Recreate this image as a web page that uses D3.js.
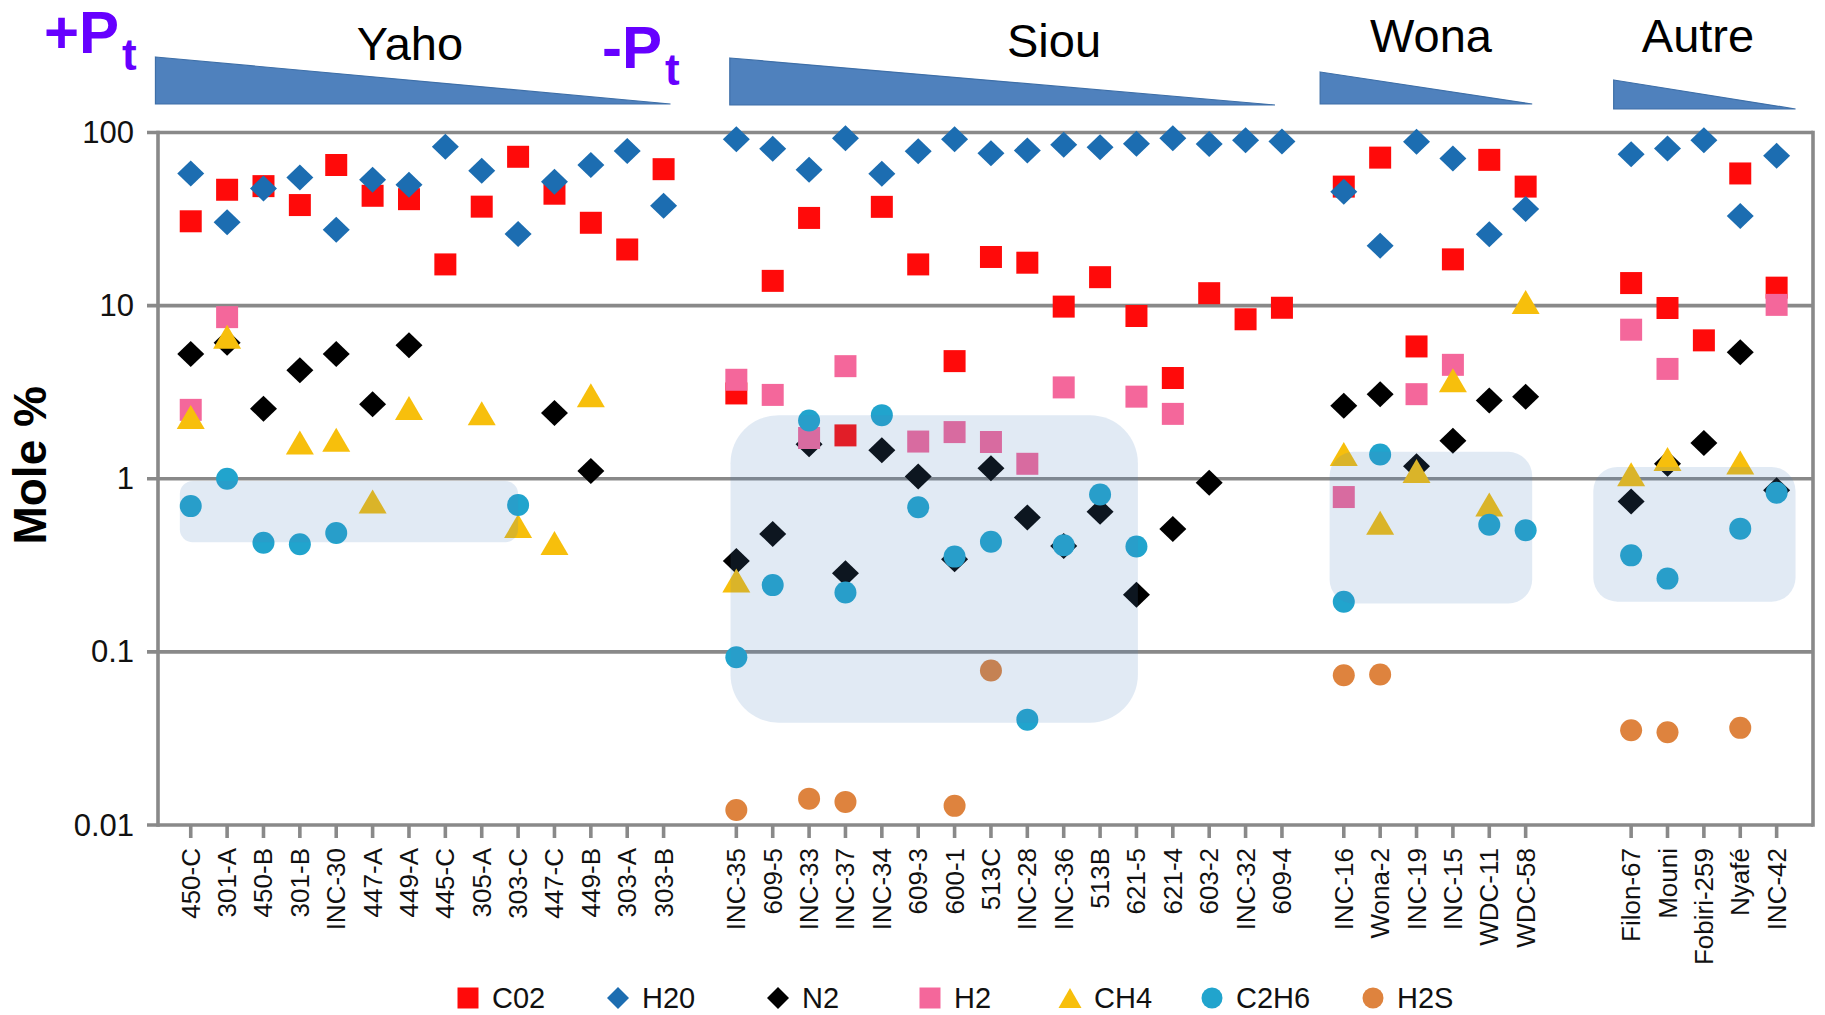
<!DOCTYPE html>
<html>
<head>
<meta charset="utf-8">
<script src="https://cdn.jsdelivr.net/npm/d3@7"></script>
<style>
  html, body { margin: 0; padding: 0; background: #fff; }
  svg { display: block; font-family: "Liberation Sans", Arial, sans-serif; }
</style>
</head>
<body>
<svg id="chart" width="1825" height="1015"></svg>
<script>
// ---- data -------------------------------------------------------------
const groupNames = ["Yaho", "Siou", "Wona", "Autre"];
const yahoSamples = ["450-C", "301-A", "450-B", "301-B", "INC-30", "447-A", "449-A", "445-C", "305-A", "303-C", "447-C", "449-B", "303-A", "303-B"];
const siouSamples = ["INC-35", "609-5", "INC-33", "INC-37", "INC-34", "609-3", "600-1", "513C", "INC-28", "INC-36", "513B", "621-5", "621-4", "603-2", "INC-32", "609-4"];
const wonaSamples = ["INC-16", "Wona-2", "INC-19", "INC-15", "WDC-11", "WDC-58"];
const autreSamples = ["Filon-67", "Mouni", "Fobiri-259", "Nyafé", "INC-42"];

const seriesNames = ["C02", "H20", "N2", "H2", "CH4", "C2H6", "H2S"];

// mole % per sample, in sample order (Yaho | Siou | Wona | Autre); null = not measured
const co2 = [30.7, 46.7, 49, 38.1, 64.9, 43.1, 41.2, 17.3, 37.3, 72.4, 44.3, 30.1, 21.1, 61.4,
  3.11, 13.9, 32.1, 1.78, 37.2, 17.3, 4.78, 19.1, 17.7, 9.87, 14.6, 8.71, 3.82, 11.8, 8.34, 9.72,
  48.7, 71.6, 5.81, 18.5, 69.5, 48.7,
  13.5, 9.69, 6.3, 58, 12.7];
const h2o = [58, 30.3, 47.5, 55, 27.4, 53.3, 49.9, 82.6, 60.1, 25.9, 51.9, 65, 78.3, 37.8,
  91.5, 80.5, 61, 92.7, 57.8, 77.8, 91.5, 76, 78.8, 84.9, 82.3, 86, 92.7, 85.7, 90.3, 88.8,
  45.5, 22.2, 88.3, 70.7, 25.8, 36.1,
  75, 80.8, 90.3, 32.9, 73.3];
const n2 = [5.26, 6.1, 2.54, 4.23, 5.26, 2.69, 5.91, null, null, null, 2.4, 1.11, null, null,
  0.335, 0.48, 1.58, 0.285, 1.46, 1.03, 0.343, 1.15, 0.598, 0.409, 0.645, 0.214, 0.513, 0.948, null, null,
  2.64, 3.08, 1.18, 1.66, 2.83, 2.98,
  0.74, 1.22, 1.61, 5.37, 0.857];
const h2 = [2.5, 8.58, null, null, null, null, null, null, null, null, null, null, null, null,
  3.73, 3.05, 1.72, 4.47, null, 1.64, 1.86, 1.63, 1.22, 3.37, null, 2.98, 2.37, null, null, null,
  0.784, null, 3.08, 4.55, null, null,
  7.26, 4.31, null, null, 10.1];
const ch4 = [2.27, 6.6, null, 1.62, 1.68, 0.74, 2.56, null, 2.39, 0.533, 0.425, 3.04, null, null,
  0.258, null, null, null, null, null, null, null, null, null, null, null, null, null, null, null,
  1.39, 0.557, 1.11, 3.71, 0.711, 10.5,
  1.06, 1.30, null, 1.24, null];
const c2h6 = [0.695, 1.0, 0.427, 0.419, 0.486, null, null, null, null, 0.705, null, null, null, null,
  0.093, 0.243, 2.17, 0.22, 2.33, 0.684, 0.355, 0.433, 0.0406, 0.413, 0.81, 0.406, null, null, null, null,
  0.195, 1.38, null, null, 0.543, 0.504,
  0.361, 0.265, null, 0.515, 0.83];
const h2s = [null, null, null, null, null, null, null, null, null, null, null, null, null, null,
  0.0122, null, 0.0142, 0.0136, null, null, 0.0129, 0.078, null, null, null, null, null, null, null, null,
  0.0733, 0.074, null, null, null, null,
  0.0353, 0.0343, null, 0.0364, null];

const yTickValues = [0.01, 0.1, 1, 10, 100];
const yTickLabels = ["0.01", "0.1", "1", "10", "100"];

// ---- layout -----------------------------------------------------------
const W = 1825, H = 1015;
const plot = { left: 158, right: 1813, top: 132.5, bottom: 825 };
const groupGapSlots = [2, 1.7, 2.9];     // spacing between sample groups, in slot units
const purple = "#6600FF";
const gridGrey = "#898989";

const svg = d3.select("#chart");

// slot index of every sample along the x axis
const groups = [yahoSamples, siouSamples, wonaSamples, autreSamples];
const samples = [], slots = [], groupSlots = [];
let cursor = 0;
groups.forEach((g, gi) => {
  const first = cursor;
  g.forEach((s, i) => { samples.push(s); slots.push(cursor + i); });
  cursor += g.length - 1;
  groupSlots.push([first, cursor]);
  if (gi < groupGapSlots.length) cursor += groupGapSlots[gi];
});

const x = d3.scaleLinear().domain([-0.9, cursor + 1.0]).range([plot.left, plot.right]);
const y = d3.scaleLog().domain([0.01, 100]).range([plot.bottom, plot.top]);

// ---- grid and axes ----------------------------------------------------
const grid = svg.append("g");
grid.selectAll("line.grid").data(yTickValues).join("line")
  .attr("x1", plot.left - 11).attr("x2", plot.right)
  .attr("y1", d => y(d)).attr("y2", d => y(d))
  .attr("stroke", gridGrey).attr("stroke-width", 3.6);
grid.append("line")
  .attr("x1", plot.left).attr("x2", plot.left)
  .attr("y1", plot.top - 1.8).attr("y2", plot.bottom + 1.8)
  .attr("stroke", gridGrey).attr("stroke-width", 3.6);
grid.append("line")
  .attr("x1", plot.right).attr("x2", plot.right)
  .attr("y1", plot.top - 1.8).attr("y2", plot.bottom + 1.8)
  .attr("stroke", gridGrey).attr("stroke-width", 3.6);
grid.selectAll("line.xtick").data(slots).join("line")
  .attr("x1", d => x(d)).attr("x2", d => x(d))
  .attr("y1", plot.bottom).attr("y2", plot.bottom + 13)
  .attr("stroke", gridGrey).attr("stroke-width", 3.6);

svg.append("g").selectAll("text").data(yTickValues).join("text")
  .attr("x", plot.left - 24).attr("y", d => y(d))
  .attr("text-anchor", "end").attr("dominant-baseline", "central")
  .attr("font-size", 31).attr("fill", "#111")
  .text((d, i) => yTickLabels[i]);

svg.append("g").selectAll("text").data(samples).join("text")
  .attr("transform", (d, i) => `translate(${x(slots[i])},${plot.bottom + 23}) rotate(-90)`)
  .attr("text-anchor", "end").attr("dominant-baseline", "central")
  .attr("font-size", 26).attr("fill", "#111")
  .text(d => d);

svg.append("text")
  .attr("transform", `translate(30,${(y(1) + y(0.1)) / 2 - 100}) rotate(-90)`)
  .attr("text-anchor", "middle").attr("dominant-baseline", "central")
  .attr("font-size", 46).attr("font-weight", "bold").attr("fill", "#000")
  .text("Mole %");

// ---- markers ----------------------------------------------------------
const square = s => `M${-s / 2},${-s / 2}h${s}v${s}h${-s}Z`;
const diamond = (w, h) => `M0,${-h / 2}L${w / 2},0L0,${h / 2}L${-w / 2},0Z`;
const triangle = (w, h) => `M0,${-h / 2}L${w / 2},${h / 2}L${-w / 2},${h / 2}Z`;
const circle = r => `M${r},0A${r},${r} 0 1,1 ${-r},0A${r},${r} 0 1,1 ${r},0Z`;

const seriesValues = [co2, h2o, n2, h2, ch4, c2h6, h2s];
const seriesColors = ["#FF0A0A", "#1C6DB1", "#000000", "#F4679B", "#F7BF0C", "#21A4CD", "#DE833E"];
const seriesShapes = [square(22), diamond(27, 26), diamond(27, 26), square(22), triangle(28, 24), circle(11), circle(11)];
const legendShapes = [square(21), diamond(22, 22), diamond(22, 22), square(21), triangle(23, 20), circle(10.5), circle(10.5)];

const markLayer = svg.append("g");
seriesValues.forEach((vals, si) => {
  markLayer.append("g").selectAll("path")
    .data(vals.map((v, i) => ({ v, i })).filter(d => d.v != null))
    .join("path")
    .attr("transform", d => `translate(${x(slots[d.i])},${y(d.v)})`)
    .attr("d", seriesShapes[si])
    .attr("fill", seriesColors[si]);
});

// ---- shaded zones highlighting the ethane cluster of each group --------
const zoneSlots = [[-0.3, 9.0], [14.84, 26.04], [31.31, 36.88], [38.56, 44.12]];
const zoneValues = [[0.43, 0.97], [0.039, 2.33], [0.19, 1.43], [0.195, 1.17]];
const zoneRadius = [13, 48, 24, 24];
svg.append("g").selectAll("rect").data(zoneSlots).join("rect")
  .attr("x", d => x(d[0])).attr("width", d => x(d[1]) - x(d[0]))
  .attr("y", (d, i) => y(zoneValues[i][1]))
  .attr("height", (d, i) => y(zoneValues[i][0]) - y(zoneValues[i][1]))
  .attr("rx", (d, i) => zoneRadius[i]).attr("ry", (d, i) => zoneRadius[i])
  .attr("fill", "#4F81BD").attr("fill-opacity", 0.17);

// ---- group headers: decreasing pressure wedges and names ---------------
const wedgeSlotPad = [[-0.97, 0.19], [-0.18, -0.19], [-0.65, 0.18], [-0.48, 0.52]];
const wedgeTop = [57, 58, 72, 80];
const wedgeBottom = [104, 105, 104, 109];
svg.append("g").selectAll("path").data(groupSlots).join("path")
  .attr("d", (d, i) => {
    const x0 = x(d[0] + wedgeSlotPad[i][0]), x1 = x(d[1] + wedgeSlotPad[i][1]);
    return `M${x0},${wedgeTop[i]}L${x1},${wedgeBottom[i]}L${x0},${wedgeBottom[i]}Z`;
  })
  .attr("fill", "#4F81BD").attr("stroke", "#3E6FA8").attr("stroke-width", 1.2);

const titleX = [410, 1054, 1431, 1698];
const titleBase = [60, 57, 52, 52];
svg.append("g").selectAll("text").data(groupNames).join("text")
  .attr("x", (d, i) => titleX[i]).attr("y", (d, i) => titleBase[i])
  .attr("text-anchor", "middle").attr("font-size", 47).attr("fill", "#000")
  .text(d => d);

function pressureLabel(sign, px, py) {
  const t = svg.append("text").attr("x", px).attr("y", py)
    .attr("font-size", 60).attr("font-weight", "bold").attr("fill", purple);
  t.append("tspan").text(sign + "P");
  t.append("tspan").attr("font-size", 44).attr("dy", 17).attr("dx", 3).text("t");
}
pressureLabel("+", 44, 53);
pressureLabel("-", 602, 68);

// ---- legend -----------------------------------------------------------
const legendX = [468, 618, 778, 930, 1070, 1212, 1373];
const legendY = 998;
const legend = svg.append("g").selectAll("g").data(seriesNames).join("g")
  .attr("transform", (d, i) => `translate(${legendX[i]},${legendY})`);
legend.append("path").attr("d", (d, i) => legendShapes[i]).attr("fill", (d, i) => seriesColors[i]);
legend.append("text").attr("x", 24).attr("y", 0)
  .attr("dominant-baseline", "central").attr("font-size", 29).attr("fill", "#111")
  .text(d => d);
</script>
</body>
</html>
